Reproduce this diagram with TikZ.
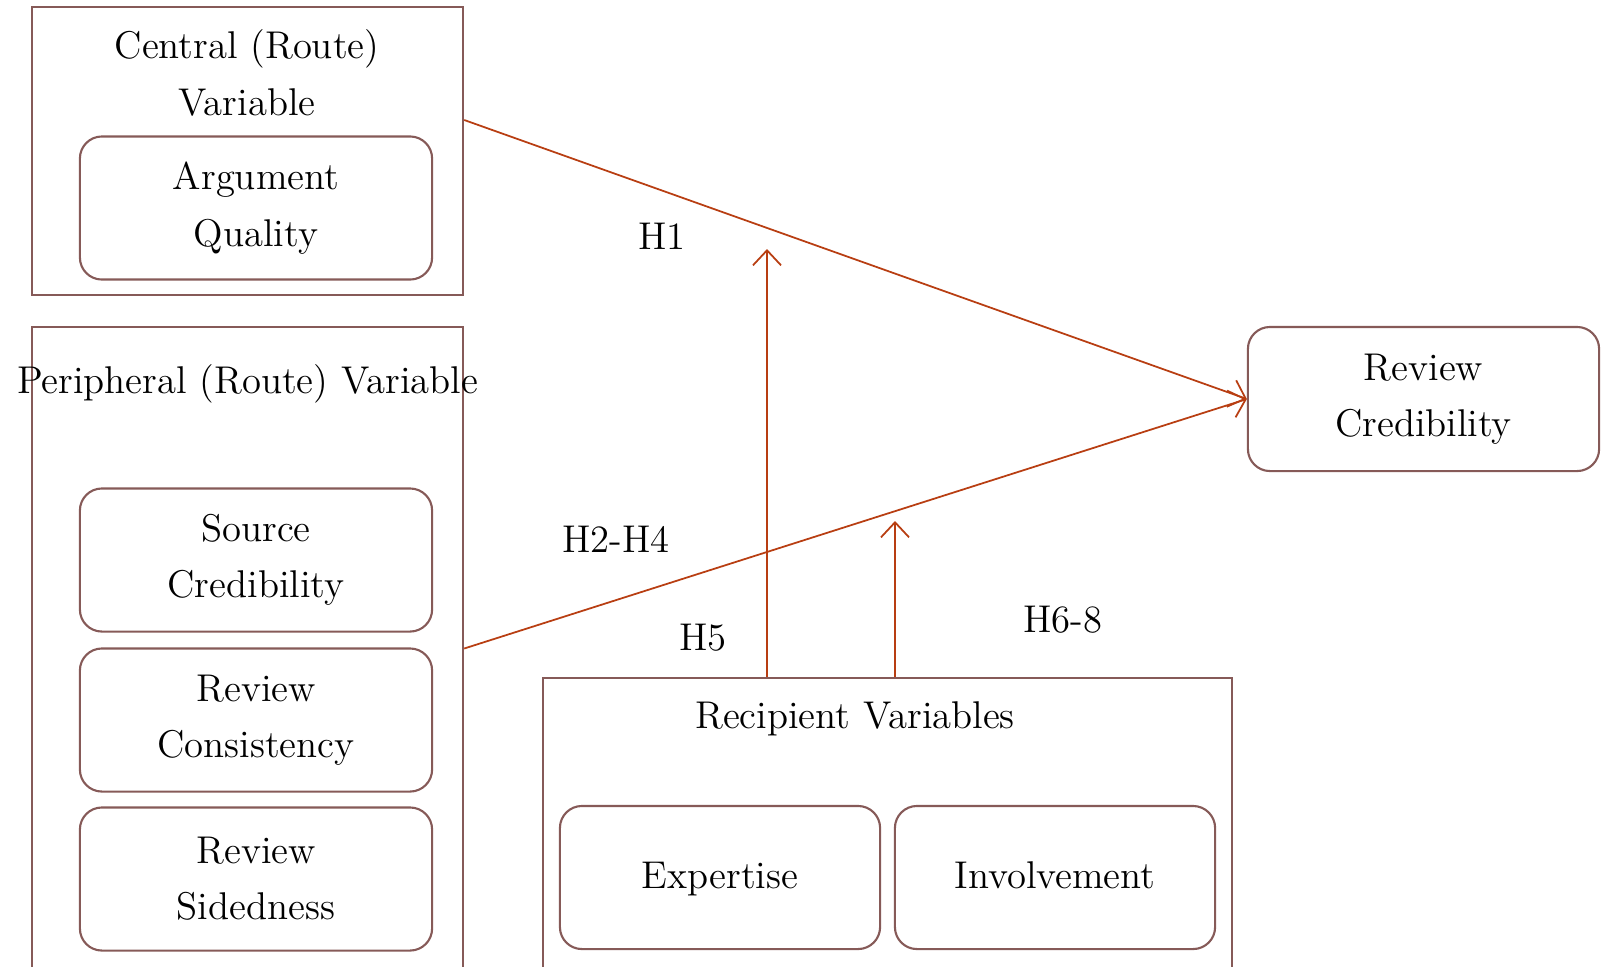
\documentclass[tikz,border=0pt]{standalone}
\usepackage{xcolor}
\usepackage{tikz}
\usetikzlibrary{shapes,arrows.meta,positioning,fit,backgrounds}

\definecolor{boxbrown}{RGB}{134,90,88}
\definecolor{linkred}{RGB}{184,62,18}

\begin{document}
\begin{tikzpicture}[x=0.01cm,y=-0.01cm,
        font=\fontsize{11}{16}\selectfont,
        outerbox/.style={draw=boxbrown, line width=0.6pt, rectangle, inner sep=0pt},
        varbox/.style={draw=boxbrown, line width=0.6pt, rounded corners=0.22cm, align=center,
            minimum width=3.52cm, minimum height=1.43cm, inner sep=0pt},
        link/.style={draw=linkred, line width=0.5pt, -{Straight Barb[length=1.5mm,width=2.8mm]}}]
        \useasboundingbox (0,0) rectangle (1604,966);
        \clip (0,0) rectangle (1604,966);

        % Central route
        \node[outerbox, minimum width=4.31cm, minimum height=2.88cm] (central) at (247.5,151) {};
        \node[align=center] (centralT) at (247,73) {Central (Route)\\Variable};
        \node[varbox] (argq) at (256,208) {Argument\\Quality};

        % Peripheral route
        \node[outerbox, minimum width=4.31cm, minimum height=6.43cm] (periph) at (247.5,648.5) {};
        \node (periphT) at (247.5,384) {Peripheral (Route) Variable};
        \node[varbox] (srccred) at (256,560) {Source\\Credibility};
        \node[varbox] (revcons) at (256,720) {Review\\Consistency};
        \node[varbox] (revside) at (256,879) {Review\\Sidedness};

        % Outcome
        \node[varbox, minimum width=3.51cm, minimum height=1.44cm] (revcred) at (1423.5,399) {Review\\Credibility};

        % Recipient variables
        \node[outerbox, minimum width=6.89cm, minimum height=3.02cm] (recip) at (887.5,829) {};
        \node (recipT) at (855,719) {Recipient Variables};
        \node[varbox, minimum width=3.2cm] (expert) at (720,877.5) {\strut Expertise};
        \node[varbox, minimum width=3.2cm] (involve) at (1055,877.5) {\strut Involvement};

        % Paths
        \coordinate (modA) at (767,249);
        \coordinate (modB) at (895,521);
        \draw[link] ([yshift=0.31cm]central.east) -- (revcred.west);
        \draw[link] (periph.east) -- (revcred.west);
        \draw[link] (modA |- recip.north) -- (modA);
        \draw[link] (modB |- recip.north) -- (modB);

        % Hypotheses
        \node (h1) at (662,236) {H1};
        \node (h2) at (616,539) {H2-H4};
        \node (h5) at (703,638) {H5};
        \node (h6) at (1063,620) {H6-8};
    \end{tikzpicture}
\end{document}
